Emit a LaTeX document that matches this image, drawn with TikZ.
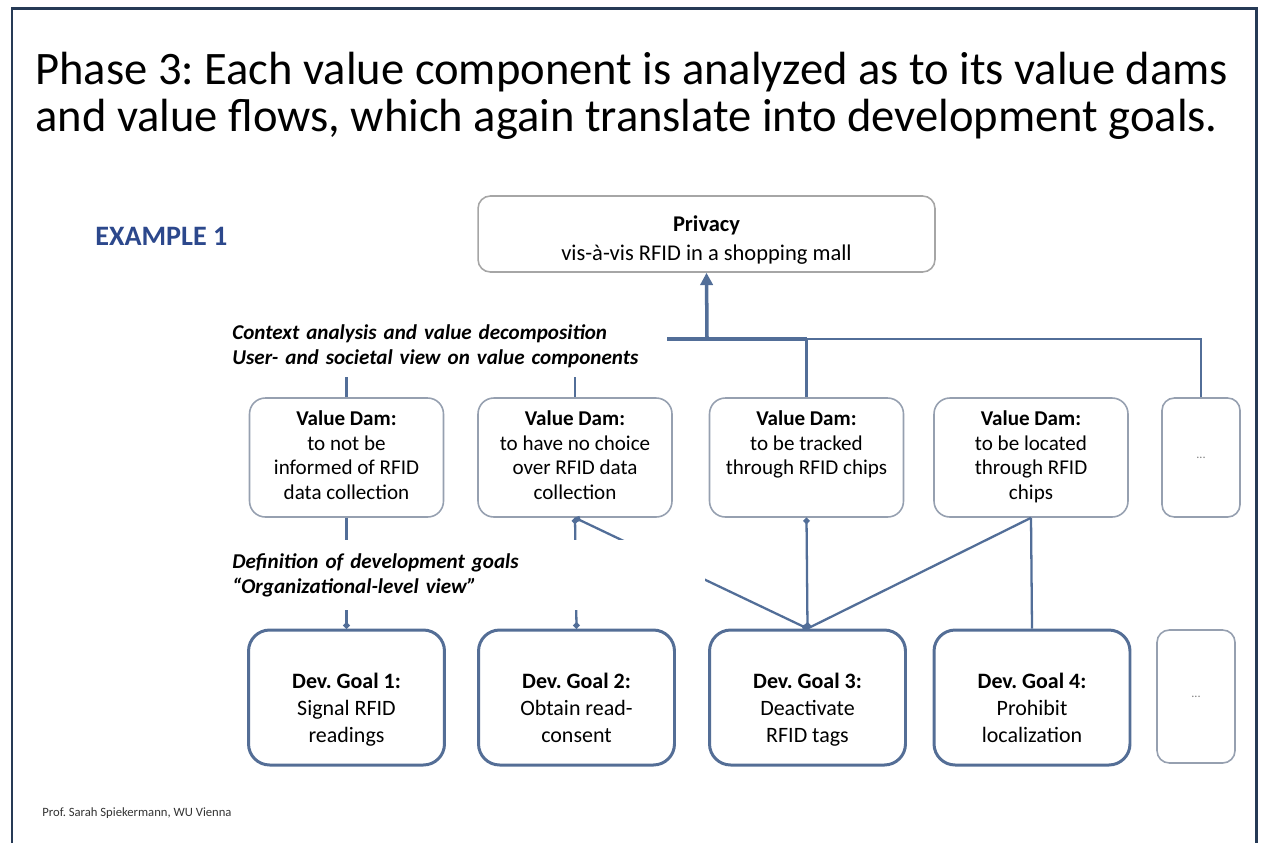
\documentclass[tikz,border=0pt]{standalone}
\usepackage{fontspec}
\setmainfont{Carlito}
\usepackage{tikz}
\usetikzlibrary{arrows.meta,positioning}
\definecolor{framenavy}{RGB}{38,58,86}
\definecolor{linkblue}{RGB}{82,110,152}
\definecolor{dambord}{RGB}{150,160,176}
\definecolor{goalbord}{RGB}{84,110,150}
\definecolor{examplenavy}{RGB}{44,72,140}
\frenchspacing
\newcommand{\lowtop}[1]{\rule{0pt}{#1}}

\begin{document}
\begin{tikzpicture}[x=0.02cm, y=-0.02cm,
  dam/.style={draw=dambord, line width=0.9pt, rounded corners=9pt, fill=white, minimum width=3.88cm, minimum height=2.38cm, align=center, font=\fontsize{12}{14.2}\selectfont},
  goal/.style={draw=goalbord, line width=1.7pt, rounded corners=12pt, fill=white, minimum width=3.92cm, minimum height=2.7cm, align=center, font=\fontsize{12.5}{15.3}\selectfont},
  dots/.style={draw=dambord, line width=0.9pt, rounded corners=7pt, fill=white, minimum width=1.56cm, font=\fontsize{7}{8}\selectfont, text=gray},
  link/.style={draw=linkblue, line width=1.3pt},
  ends/.style={{Circle[length=3.5pt]}-{Circle[length=3.5pt]}},
  note/.style={fill=white, align=left, anchor=north west, inner ysep=0pt, inner xsep=0.12cm, font=\bfseries\itshape\fontsize{12}{14}\selectfont}]
\useasboundingbox (0,0) rectangle (1266,843);
\draw[framenavy, line width=1.7pt] (12,843) -- (12,8) -- (1256,8) -- (1256,843);

\node[anchor=north west, align=left, inner sep=0pt, font=\fontsize{26.5}{26.7}\selectfont] (title) at (35,52) {Phase 3: Each value component is analyzed as to its value dams\\and value flows, which again translate into development goals.};
\node[anchor=west, text=examplenavy, font=\bfseries\fontsize{16}{18}\selectfont, inner sep=0pt] (ex) at (95,236) {EXAMPLE 1};

\node[draw=gray!70, line width=0.9pt, rounded corners=7pt, minimum width=9.14cm, minimum height=1.52cm, align=center, font=\fontsize{12.8}{17}\selectfont] (priv) at (706.5,234) {\lowtop{15.8pt}\textbf{Privacy}\\vis-à-vis RFID in a shopping mall};

\node[dam] (vd1) at (346.5,457.5) {\strut\textbf{Value Dam:}\\to not be\\informed of RFID\\data collection\strut};
\node[dam] (vd2) at (575,457.5) {\strut\textbf{Value Dam:}\\to have no choice\\over RFID data\\collection\strut};
\node[dam] (vd3) at (806.5,457.5) {\strut\textbf{Value Dam:}\\to be tracked\\through RFID chips\\\strut};
\node[dam] (vd4) at (1031,457.5) {\strut\textbf{Value Dam:}\\to be located\\through RFID\\chips\strut};
\node[dots, minimum height=2.38cm] (vd5) at (1201,457.5) {...};

\node[goal] (dg1) at (346.5,697.5) {\lowtop{25pt}\textbf{Dev. Goal 1:}\\Signal RFID\\readings\strut};
\node[goal] (dg2) at (576.5,697.5) {\lowtop{25pt}\textbf{Dev. Goal 2:}\\Obtain read-\\consent\strut};
\node[goal] (dg3) at (807.5,697.5) {\lowtop{25pt}\textbf{Dev. Goal 3:}\\Deactivate\\RFID tags\strut};
\node[goal] (dg4) at (1032,697.5) {\lowtop{25pt}\textbf{Dev. Goal 4:}\\Prohibit\\localization\strut};
\node[dots, minimum height=2.66cm] (dg5) at (1196,696.5) {...};

\coordinate (hub) at (707,339);
\draw[link, line width=2pt, -{Triangle[length=7pt,width=7pt]}] (hub) -- (priv.south);
\draw[link] (vd1.north) |- (hub) -- (vd5.north |- hub) -- (vd5.north);
\draw[link, line width=2pt] (vd2.north |- hub) -- (vd3.north |- hub);
\draw[link] (vd2.north) -- (vd2.north |- hub);
\draw[link] (vd3.north) -- (vd3.north |- hub);

\draw[link, -{Circle[length=3.5pt]}] (vd1.south) -- (dg1.north);
\draw[link, ends] (vd2.south) -- (dg2.north);
\draw[link, ends] (vd2.south) -- (dg3.north);
\draw[link, ends] (vd3.south) -- (dg3.north);
\draw[link] (vd4.south) -- (dg3.north);
\draw[link] (vd4.south) -- (dg4.north);

\node[note, text width=8.58cm, minimum height=1.24cm] (ctx) at (226,315) {Context analysis and value decomposition\\User- and societal view on value components};
\node[note, text width=9.34cm, minimum height=1.4cm] (def) at (226,540) {Definition of development goals\\“Organizational-level view”};

\node[anchor=west, inner sep=0pt, text=black!80, font=\fontsize{7.2}{9}\selectfont] (foot) at (42,813) {Prof. Sarah Spiekermann, WU Vienna};
\end{tikzpicture}
\end{document}
